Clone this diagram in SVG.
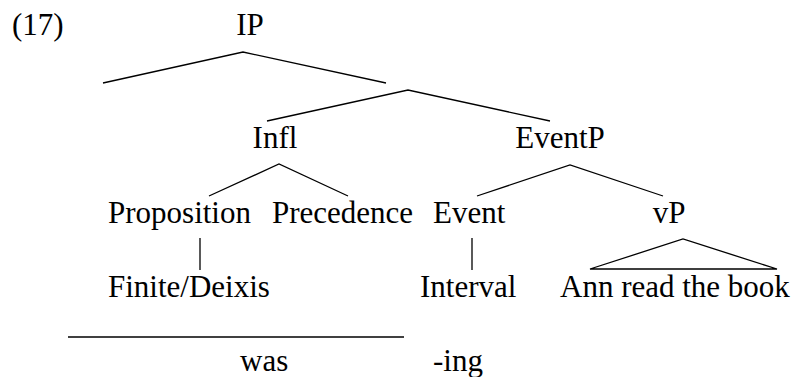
<svg xmlns="http://www.w3.org/2000/svg" width="799" height="377" viewBox="0 0 799 377">
<style>
text{font-family:"Liberation Serif","Times New Roman",serif;font-size:31px;fill:#000}
.e{stroke:#000;stroke-width:1.3;fill:none}
</style>
<rect width="799" height="377" fill="#fff"/>
<text x="12" y="35">(17)</text>
<g id="IP"><text x="250" y="35" text-anchor="middle">IP</text></g>
<g id="Infl"><text x="275" y="148" text-anchor="middle">Infl</text></g>
<g id="EventP"><text x="560" y="148" text-anchor="middle">EventP</text></g>
<g id="Proposition"><text x="108" y="223">Proposition</text></g>
<g id="Precedence"><text x="272" y="223">Precedence</text></g>
<g id="Event"><text x="433" y="223">Event</text></g>
<g id="vP"><text x="669" y="223" text-anchor="middle">vP</text></g>
<g id="FiniteDeixis"><text x="108" y="297">Finite/Deixis</text></g>
<g id="Interval"><text x="420" y="297">Interval</text></g>
<g id="Ann"><text x="560" y="297">Ann read the book</text></g>
<g id="was"><text x="240" y="371">was</text></g>
<g id="ing"><text x="433" y="371">-ing</text></g>
<g id="connectors">
<polyline class="e" points="103,83 243,52 386,83"/>
<polyline class="e" points="267,121 408,90 550,121"/>
<polyline class="e" points="209,196 279,164 348,196"/>
<polyline class="e" points="477,196 570,165 663,196"/>
<polygon class="e" points="590,269 683,239 777,269"/>
<line class="e" x1="200" y1="238" x2="200" y2="270"/>
<line class="e" x1="472" y1="238" x2="472" y2="270"/>
<line class="e" x1="68" y1="337" x2="404" y2="337"/>
</g>
</svg>
